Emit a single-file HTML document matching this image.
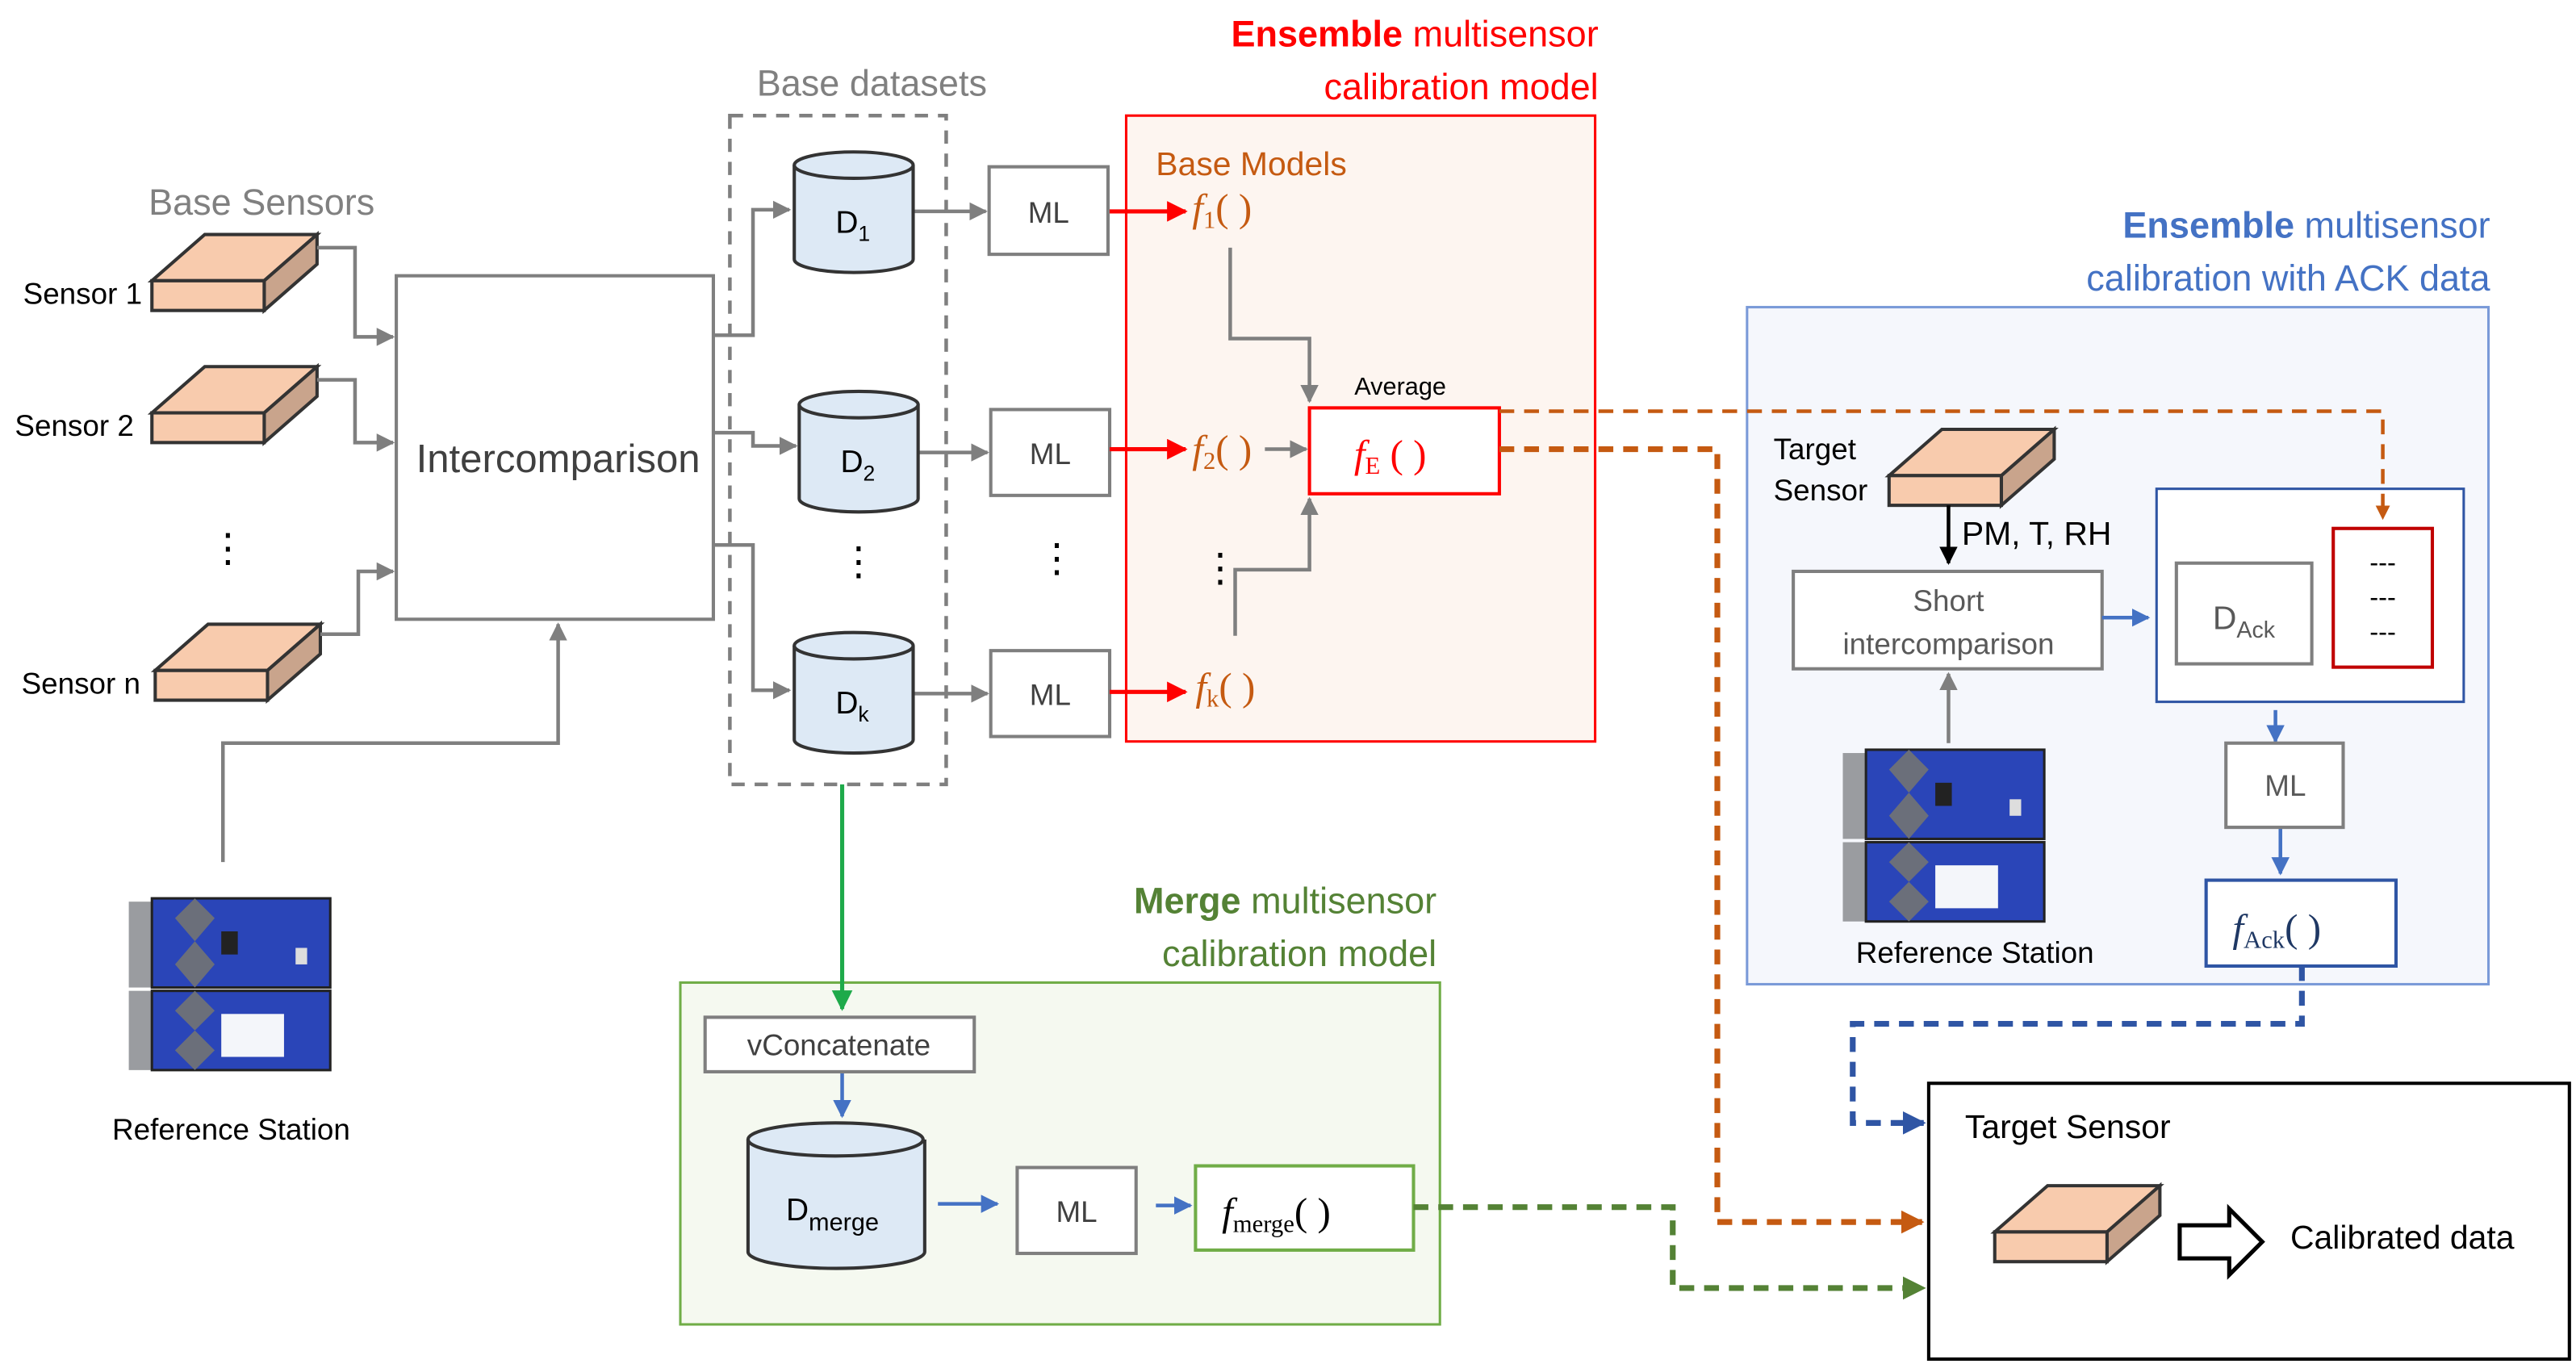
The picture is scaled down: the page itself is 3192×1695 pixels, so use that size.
<!DOCTYPE html>
<html><head><meta charset="utf-8"><style>
html,body{margin:0;padding:0;background:#fff;}
svg{display:block;}
text{font-family:"Liberation Sans",sans-serif;}
.s{font-family:"Liberation Serif",serif;font-style:italic;}
</style></head><body>
<svg width="3192" height="1695" viewBox="0 0 1560 828.4" preserveAspectRatio="none" xmlns="http://www.w3.org/2000/svg">
<defs>
<marker id="ag" viewBox="0 0 10 10" refX="9" refY="5" markerWidth="5" markerHeight="5" orient="auto"><path d="M0,0L10,5L0,10z" fill="#7f7f7f"/></marker>
<marker id="ar" viewBox="0 0 10 10" refX="9" refY="5" markerWidth="5" markerHeight="5" orient="auto"><path d="M0,0L10,5L0,10z" fill="#ff0000"/></marker>
<marker id="ab" viewBox="0 0 10 10" refX="9" refY="5" markerWidth="5" markerHeight="5" orient="auto"><path d="M0,0L10,5L0,10z" fill="#4472c4"/></marker>
<marker id="ak" viewBox="0 0 10 10" refX="9" refY="5" markerWidth="5" markerHeight="5" orient="auto"><path d="M0,0L10,5L0,10z" fill="#000"/></marker>
<marker id="agr" viewBox="0 0 10 10" refX="9" refY="5" markerWidth="5" markerHeight="5" orient="auto"><path d="M0,0L10,5L0,10z" fill="#1eaa4a"/></marker>
<marker id="ao" viewBox="0 0 10 10" refX="9" refY="5" markerWidth="4" markerHeight="4" orient="auto"><path d="M0,0L10,5L0,10z" fill="#c55a11"/></marker>
<marker id="adb" viewBox="0 0 10 10" refX="9" refY="5" markerWidth="4" markerHeight="4" orient="auto"><path d="M0,0L10,5L0,10z" fill="#2f55a4"/></marker>
<marker id="adg" viewBox="0 0 10 10" refX="9" refY="5" markerWidth="4" markerHeight="4" orient="auto"><path d="M0,0L10,5L0,10z" fill="#548235"/></marker>
<g id="station">
<rect x="0" y="4" width="122" height="52" fill="#9a9ca0"/>
<rect x="14" y="2" width="108" height="54" fill="#2a45b8" stroke="#222" stroke-width="1.5"/>
<path d="M40,2L52,14L40,28L52,42L40,56L28,42L40,28L28,14z" fill="#6b6f7a"/>
<rect x="56" y="22" width="10" height="14" fill="#222"/>
<rect x="101" y="32" width="7" height="10" fill="#ddd"/>
<rect x="0" y="58" width="122" height="48" fill="#9a9ca0"/>
<rect x="14" y="58" width="108" height="48" fill="#2a45b8" stroke="#222" stroke-width="1.5"/>
<path d="M40,58L52,70L40,82L52,94L40,106L28,94L40,82L28,70z" fill="#6b6f7a"/>
<rect x="56" y="72" width="38" height="26" fill="#f4f6fa"/>
</g>
<g id="cub">
<path d="M0,28L32,0L100,0L68,28z" fill="#f8cbad" stroke="#333" stroke-width="2"/>
<path d="M68,28L100,0L100,18L68,46z" fill="#c9a48c" stroke="#333" stroke-width="2"/>
<rect x="0" y="28" width="68" height="18" fill="#f8cbad" stroke="#333" stroke-width="2"/>
</g>
</defs>

<!-- background boxes -->
<rect x="682" y="70" width="284" height="379" fill="#fdf5f0" stroke="#ff0000" stroke-width="1.5"/>
<rect x="1058" y="186" width="449" height="410" fill="#f5f7fc" stroke="#7a9ad8" stroke-width="1.5"/>
<rect x="412" y="595" width="460" height="207" fill="#f5f9f0" stroke="#70ad47" stroke-width="1.5"/>

<!-- left sensors -->
<text x="90" y="130" font-size="22" fill="#808080">Base Sensors</text>
<use href="#cub" x="92" y="142"/>
<use href="#cub" x="92" y="222"/>
<use href="#cub" x="94" y="378"/>
<text x="14" y="184" font-size="18">Sensor 1</text>
<text x="9" y="264" font-size="18">Sensor 2</text>
<text x="13" y="420" font-size="18">Sensor n</text>
<text x="126" y="340" font-size="24">⋮</text>
<g fill="none" stroke="#7f7f7f" stroke-width="2.2">
<path d="M192,150H215V204H238" marker-end="url(#ag)"/>
<path d="M192,230H215V268H238" marker-end="url(#ag)"/>
<path d="M194,384H217V346H238" marker-end="url(#ag)"/>
<path d="M135,522V450H338V378" marker-end="url(#ag)"/>
<path d="M432,203H456V127H478" marker-end="url(#ag)"/>
<path d="M432,262H456V270H482" marker-end="url(#ag)"/>
<path d="M432,330H456V418H478" marker-end="url(#ag)"/>
<path d="M553,128H597" marker-end="url(#ag)"/>
<path d="M556,274H598" marker-end="url(#ag)"/>
<path d="M553,420H598" marker-end="url(#ag)"/>
<path d="M745,150V205H793V243" marker-end="url(#ag)"/>
<path d="M748,385V345H793V302" marker-end="url(#ag)"/>
<path d="M766,272H791" marker-end="url(#ag)"/>
<path d="M1180,450V408" marker-end="url(#ag)"/>
</g>
<rect x="240" y="167" width="192" height="208" fill="#fff" stroke="#7f7f7f" stroke-width="2"/>
<text x="338" y="286" font-size="24" fill="#404040" text-anchor="middle">Intercomparison</text>
<use href="#station" x="78" y="542"/>
<text x="140" y="690" font-size="18" text-anchor="middle">Reference Station</text>

<!-- base datasets -->
<text x="528" y="58" font-size="22" fill="#808080" text-anchor="middle">Base datasets</text>
<rect x="442" y="70" width="131" height="405" fill="none" stroke="#7f7f7f" stroke-width="2.2" stroke-dasharray="8,6"/>
<path d="M510,475V611" stroke="#1eaa4a" stroke-width="2.5" marker-end="url(#agr)"/>
<g stroke="#333" stroke-width="2" fill="#dde9f5">
<path d="M481,100V157A36,8 0 0 0 553,157V100"/><ellipse cx="517" cy="100" rx="36" ry="8"/>
<path d="M484,245V302A36,8 0 0 0 556,302V245"/><ellipse cx="520" cy="245" rx="36" ry="8"/>
<path d="M481,391V448A36,8 0 0 0 553,448V391"/><ellipse cx="517" cy="391" rx="36" ry="8"/>
<path d="M453,690V758A53,10 0 0 0 560,758V690"/><ellipse cx="506" cy="690" rx="53" ry="10"/>
</g>
<text x="506" y="141" font-size="19">D<tspan font-size="13" dy="5">1</tspan></text>
<text x="509" y="286" font-size="19">D<tspan font-size="13" dy="5">2</tspan></text>
<text x="506" y="432" font-size="19">D<tspan font-size="13" dy="5">k</tspan></text>
<text x="508" y="348" font-size="24">⋮</text>
<text x="628" y="346" font-size="24">⋮</text>
<g fill="#fff" stroke="#7f7f7f" stroke-width="2">
<rect x="599" y="101" width="72" height="53"/><rect x="600" y="248" width="72" height="52"/><rect x="600" y="394" width="72" height="52"/>
</g>
<text x="635" y="135" font-size="18" fill="#404040" text-anchor="middle">ML</text>
<text x="636" y="281" font-size="18" fill="#404040" text-anchor="middle">ML</text>
<text x="636" y="427" font-size="18" fill="#404040" text-anchor="middle">ML</text>

<!-- ensemble -->
<text x="968" y="28" font-size="22" fill="#ff0000" text-anchor="end"><tspan font-weight="bold">Ensemble</tspan> multisensor</text>
<text x="968" y="60" font-size="22" fill="#ff0000" text-anchor="end">calibration model</text>
<text x="700" y="106" font-size="20" fill="#c55a11">Base Models</text>
<g fill="none" stroke="#ff0000" stroke-width="2.5">
<path d="M672,128H718" marker-end="url(#ar)"/><path d="M672,272H718" marker-end="url(#ar)"/><path d="M672,419H718" marker-end="url(#ar)"/>
</g>
<g fill="#c55a11" font-size="24">
<text class="s" x="722" y="134">f<tspan font-size="15" dy="4" font-style="normal">1</tspan><tspan dy="-4" font-style="normal">( )</tspan></text>
<text class="s" x="722" y="280">f<tspan font-size="15" dy="4" font-style="normal">2</tspan><tspan dy="-4" font-style="normal">( )</tspan></text>
<text class="s" x="724" y="424">f<tspan font-size="15" dy="4" font-style="normal">k</tspan><tspan dy="-4" font-style="normal">( )</tspan></text>
</g>
<text x="727" y="352" font-size="24">⋮</text>
<text x="848" y="239" font-size="15" text-anchor="middle">Average</text>
<rect x="793" y="247" width="115" height="52" fill="#fff" stroke="#ff0000" stroke-width="2"/>
<text class="s" x="820" y="283" font-size="24" fill="#ff0000">f<tspan font-size="15" dy="4" font-style="normal">E</tspan><tspan dy="-4" font-style="normal"> ( )</tspan></text>

<!-- ACK -->
<text x="1508" y="144" font-size="22" fill="#4472c4" text-anchor="end"><tspan font-weight="bold">Ensemble</tspan> multisensor</text>
<text x="1508" y="176" font-size="22" fill="#4472c4" text-anchor="end">calibration with ACK data</text>
<text x="1074" y="278" font-size="18">Target</text>
<text x="1074" y="303" font-size="18">Sensor</text>
<use href="#cub" x="1144" y="260"/>
<path d="M1180,306V341" stroke="#000" stroke-width="2.2" marker-end="url(#ak)"/>
<text x="1188" y="330" font-size="20">PM, T, RH</text>
<rect x="1086" y="346" width="187" height="59" fill="#fff" stroke="#7f7f7f" stroke-width="2"/>
<text x="1180" y="370" font-size="18" fill="#595959" text-anchor="middle">Short</text>
<text x="1180" y="396" font-size="18" fill="#595959" text-anchor="middle">intercomparison</text>
<use href="#station" x="1116" y="452"/>
<text x="1196" y="583" font-size="18" text-anchor="middle">Reference Station</text>
<rect x="1306" y="296" width="186" height="129" fill="#fff" stroke="#2f55a4" stroke-width="1.5"/>
<rect x="1318" y="341" width="82" height="61" fill="#fff" stroke="#7f7f7f" stroke-width="2"/>
<text x="1340" y="381" font-size="20" fill="#595959">D<tspan font-size="14" dy="5">Ack</tspan></text>
<rect x="1413" y="320" width="60" height="84" fill="#fff" stroke="#c00000" stroke-width="2"/>
<text x="1443" y="346" font-size="16" text-anchor="middle">---</text>
<text x="1443" y="367" font-size="16" text-anchor="middle">---</text>
<text x="1443" y="388" font-size="16" text-anchor="middle">---</text>
<g fill="none" stroke="#4472c4" stroke-width="2.2">
<path d="M1273,374H1301" marker-end="url(#ab)"/>
<path d="M1378,430V449" marker-end="url(#ab)"/>
<path d="M1381,501V529" marker-end="url(#ab)"/>
<path d="M510,650V676" marker-end="url(#ab)"/>
<path d="M568,729H604" marker-end="url(#ab)"/>
<path d="M700,730H721" marker-end="url(#ab)"/>
</g>
<rect x="1348" y="450" width="71" height="51" fill="#fff" stroke="#7f7f7f" stroke-width="2"/>
<text x="1384" y="482" font-size="18" fill="#595959" text-anchor="middle">ML</text>
<rect x="1336" y="533" width="115" height="52" fill="#fff" stroke="#2f55a4" stroke-width="2"/>
<text class="s" x="1352" y="570" font-size="24" fill="#1f3864">f<tspan font-size="15" dy="4" font-style="normal">Ack</tspan><tspan dy="-4" font-style="normal">( )</tspan></text>

<!-- merge -->
<text x="870" y="553" font-size="22" fill="#548235" text-anchor="end"><tspan font-weight="bold">Merge</tspan> multisensor</text>
<text x="870" y="585" font-size="22" fill="#548235" text-anchor="end">calibration model</text>
<rect x="427" y="616" width="163" height="33" fill="#fff" stroke="#7f7f7f" stroke-width="2"/>
<text x="508" y="639" font-size="18" fill="#404040" text-anchor="middle">vConcatenate</text>
<text x="476" y="739" font-size="19">D<tspan font-size="15" dy="6">merge</tspan></text>
<rect x="616" y="707" width="72" height="52" fill="#fff" stroke="#7f7f7f" stroke-width="2"/>
<text x="652" y="740" font-size="18" fill="#404040" text-anchor="middle">ML</text>
<rect x="724" y="706" width="132" height="51" fill="#fff" stroke="#70ad47" stroke-width="2"/>
<text class="s" x="740" y="742" font-size="24" fill="#000">f<tspan font-size="15" dy="4" font-style="normal">merge</tspan><tspan dy="-4" font-style="normal">( )</tspan></text>

<!-- dashed connectors -->
<g fill="none" stroke-dasharray="9,6">
<path d="M908,249H1443V314" stroke="#c55a11" stroke-width="2.2" marker-end="url(#ao)"/>
<path d="M908,272H1040V740H1164" stroke="#c55a11" stroke-width="3.5" marker-end="url(#ao)"/>
<path d="M1394,585V620H1122V680H1165" stroke="#2f55a4" stroke-width="3.5" marker-end="url(#adb)"/>
<path d="M856,731H1013V780H1165" stroke="#548235" stroke-width="3.5" marker-end="url(#adg)"/>
</g>

<!-- target sensor -->
<rect x="1168" y="656" width="388" height="167" fill="#fff" stroke="#000" stroke-width="2"/>
<text x="1190" y="689" font-size="20">Target Sensor</text>
<use href="#cub" x="1208" y="718"/>
<path d="M1320,742H1350V732L1370,752L1350,772V762H1320z" fill="#fff" stroke="#000" stroke-width="2.5"/>
<text x="1387" y="756" font-size="20">Calibrated data</text>
</svg>
</body></html>
